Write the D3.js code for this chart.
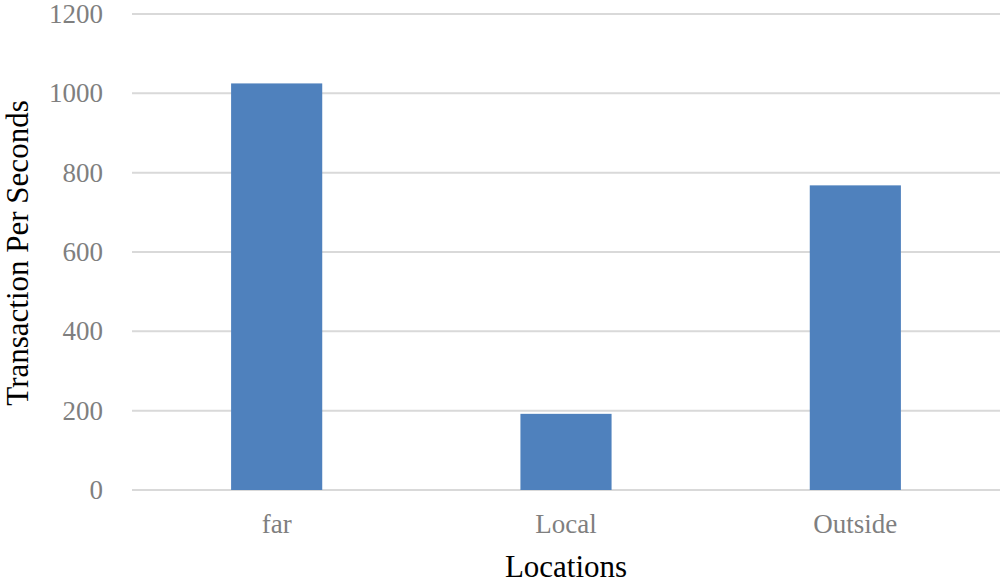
<!DOCTYPE html>
<html>
<head>
<meta charset="utf-8">
<script src="https://cdn.jsdelivr.net/npm/d3@7"></script>
<style>
  body { margin: 0; background: #fff; }
  svg { display: block; font-family: "Liberation Serif", "Times New Roman", serif; }
</style>
</head>
<body>
<svg width="1000" height="584"></svg>
<script>
// chart values
var categories = ["far", "Local", "Outside"];
var tps = [1025, 192, 768];
var yTicks = [0, 200, 400, 600, 800, 1000, 1200];

var svg = d3.select("svg"),
    plotLeft = 132, plotRight = 1000, plotTop = 14, plotBottom = 490;

var x = d3.scaleBand()
    .domain(categories)
    .range([plotLeft, plotRight])
    .paddingInner(0.685)
    .paddingOuter(0.3425);

var y = d3.scaleLinear()
    .domain([0, 1200])
    .range([plotBottom, plotTop]);

// gridlines
svg.append("g")
  .selectAll("line")
  .data(yTicks)
  .enter().append("line")
    .attr("x1", plotLeft)
    .attr("x2", plotRight)
    .attr("y1", function(d) { return y(d); })
    .attr("y2", function(d) { return y(d); })
    .attr("stroke", "#d9d9d9")
    .attr("stroke-width", 2);

// bars
svg.append("g")
  .selectAll("rect")
  .data(tps)
  .enter().append("rect")
    .attr("x", function(d, i) { return x(categories[i]); })
    .attr("y", function(d) { return y(d); })
    .attr("width", x.bandwidth())
    .attr("height", function(d) { return plotBottom - y(d); })
    .attr("fill", "#4f81bd");

// y axis labels
var yAxis = svg.append("g")
    .attr("transform", "translate(" + (plotLeft - 29) + ",0)")
    .call(d3.axisLeft(y).tickValues(yTicks).tickFormat(d3.format("d")).tickSize(0).tickPadding(0));
yAxis.select(".domain").remove();
yAxis.selectAll("text")
    .attr("font-family", "Liberation Serif")
    .attr("font-size", 27)
    .attr("fill", "#7f7f7f");

// x axis labels
var xAxis = svg.append("g")
    .attr("transform", "translate(0," + plotBottom + ")")
    .call(d3.axisBottom(x).tickSize(0).tickPadding(24));
xAxis.select(".domain").remove();
xAxis.selectAll("text")
    .attr("font-family", "Liberation Serif")
    .attr("font-size", 27)
    .attr("fill", "#7f7f7f");

// axis titles
svg.append("text")
    .attr("x", (plotLeft + plotRight) / 2)
    .attr("y", 577)
    .attr("text-anchor", "middle")
    .attr("font-size", 31)
    .attr("fill", "#000")
    .text("Locations");

svg.append("text")
    .attr("transform", "translate(28,253) rotate(-90)")
    .attr("text-anchor", "middle")
    .attr("font-size", 31)
    .attr("fill", "#000")
    .text("Transaction Per Seconds");
</script>
</body>
</html>
